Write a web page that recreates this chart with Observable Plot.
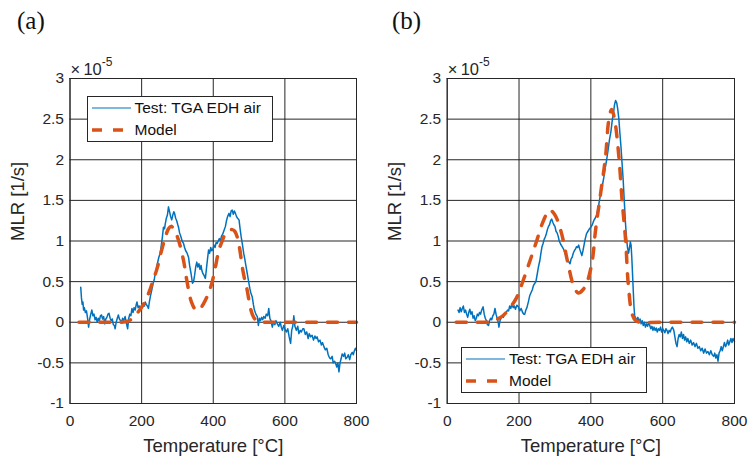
<!DOCTYPE html>
<html>
<head>
<meta charset="utf-8">
<script src="https://cdn.jsdelivr.net/npm/d3@7"></script>
<script src="https://cdn.jsdelivr.net/npm/@observablehq/plot@0.6"></script>
<style>
  html, body { margin: 0; padding: 0; background: #fff; }
  #root { position: relative; width: 750px; height: 459px; overflow: hidden; font-family: "Liberation Sans", Arial, Helvetica, sans-serif; color: #262626; }
  .panel { position: absolute; top: 0; }
  .tag { position: absolute; font-family: "Liberation Serif", "DejaVu Serif", serif; font-size: 25px; color: #111; line-height: 1; }
  .exp { position: absolute; font-size: 16.5px; color: #262626; line-height: 1; white-space: nowrap; }
  .exp sup { font-size: 12px; position: relative; top: -2px; }
  .legend { position: absolute; background: #fff; border: 1px solid #262626; box-sizing: border-box; }
  .legend .row { position: absolute; left: 0; height: 20px; display: flex; align-items: center; font-size: 15.5px; white-space: nowrap; color: #111; }
  .legend svg { display: block; margin-left: 4px; margin-right: 4px; }
</style>
</head>
<body>
<div id="root"></div>
<script>
// ---------------- data ----------------
const xTicks = [0, 200, 400, 600, 800];
const yTicks = [-1, -0.5, 0, 0.5, 1, 1.5, 2, 2.5, 3];
const panelTags = ["(a)", "(b)"];
const seriesNames = ["Test: TGA EDH air", "Model"];
const xLabel = "Temperature [°C]";
const yLabel = "MLR [1/s]";

// Panel (a) test curve, temperature (°C) and MLR (×1e-5 1/s)
const testA_T = [30,32,34,36,38,40,43,46,49,52,55,58,61,64,67,70,73,76,79,82,85,88,91,94,97,100,103,106,109,112,115,118,121,124,126,129,132,135,138,141,144,147,150,154,157,161,164,167,170,173,176,179,182,185,187,190,193,196,199,202,205,208,210,213,216,219,222,225,228,232,235,238,241,244,248,252,255,258,261,264,266,269,272,275,278,281,284,287,290,292,295,298,301,303,306,310,313,317,320,323,327,331,334,338,342,345,348,351,354,357,360,363,366,368,371,374,378,381,384,387,390,393,396,399,402,405,408,411,414,417,420,423,426,430,434,437,440,444,447,450,453,456,459,462,465,468,472,475,478,481,485,488,491,495,498,502,505,509,512,515,519,523,526,529,532,535,538,541,545,548,552,555,558,561,565,568,572,575,579,583,587,590,593,597,600,604,608,612,616,619,622,625,628,632,636,639,643,646,650,653,657,661,665,668,672,676,680,684,687,690,694,698,702,705,709,713,717,721,725,728,732,735,739,742,745,748,751,754,757,760,764,767,770,774,777,781,784,788,791,794,797,800];
const testA_V = [0.43,0.3,0.22,0.25,0.15,0.18,0.12,0.14,0.05,-0.06,0.04,0.1,0.15,0.08,0.1,0.03,0.06,0.0,0.05,0.02,0.08,0.09,0.04,0.07,-0.02,0.04,0.06,0.1,0.11,0.05,0.02,0.04,-0.03,-0.04,-0.08,0.0,0.05,0.09,0.04,0.02,0.0,0.05,0.02,0.07,0.0,-0.08,0.05,0.1,0.08,0.17,0.12,0.18,0.15,0.22,0.25,0.18,0.2,0.15,0.2,0.18,0.22,0.2,0.25,0.22,0.2,0.17,0.26,0.33,0.39,0.48,0.52,0.6,0.65,0.72,0.8,0.85,0.95,1.05,1.17,1.15,1.21,1.28,1.32,1.42,1.36,1.3,1.26,1.32,1.36,1.34,1.28,1.25,1.2,1.17,1.1,1.05,1.0,0.97,0.92,0.88,0.85,0.8,0.7,0.6,0.48,0.5,0.58,0.68,0.74,0.68,0.72,0.65,0.7,0.64,0.6,0.58,0.54,0.66,0.78,0.89,0.85,0.92,0.88,0.9,0.95,0.92,0.98,0.97,1.0,1.03,1.0,1.06,1.08,1.13,1.18,1.25,1.3,1.34,1.3,1.37,1.38,1.33,1.37,1.34,1.3,1.28,1.26,1.15,1.05,0.97,0.85,0.78,0.7,0.6,0.52,0.42,0.36,0.31,0.22,0.15,0.1,0.07,-0.04,0.05,0.02,0.06,0.03,0.07,0.05,0.1,0.08,0.17,0.05,0.02,-0.06,0.0,-0.03,0.02,-0.02,-0.05,0.0,-0.06,-0.1,-0.04,-0.08,-0.12,-0.08,-0.18,-0.26,-0.1,-0.05,0.08,-0.05,-0.1,-0.05,-0.14,-0.1,-0.12,-0.08,-0.08,-0.15,-0.12,-0.2,-0.14,-0.18,-0.16,-0.22,-0.17,-0.2,-0.18,-0.24,-0.22,-0.28,-0.25,-0.3,-0.34,-0.32,-0.4,-0.44,-0.45,-0.42,-0.5,-0.48,-0.51,-0.55,-0.5,-0.61,-0.5,-0.45,-0.39,-0.42,-0.38,-0.45,-0.43,-0.4,-0.46,-0.4,-0.37,-0.4,-0.35,-0.32,-0.35];

// Panel (a) model curve
const modelA_T = [25,60,100,140,160,175,191,205,219,231,243,256,265,275,282,290,303,317,326,339,350,360,373,385,396,406,416,425,434,444,453,460,467,474,481,488,495,504,513,523,535,560,600,700,800];
const modelA_V = [0,0,0,0,0.01,0.05,0.13,0.22,0.35,0.5,0.66,0.89,1.03,1.15,1.18,1.15,1.01,0.76,0.52,0.25,0.16,0.15,0.23,0.34,0.48,0.68,0.89,1.0,1.09,1.13,1.14,1.12,1.05,0.9,0.68,0.52,0.39,0.17,0.06,0.01,0,0,0,0,0];

// Panel (b) test curve
const testB_T = [30,33,36,39,42,45,48,51,54,57,60,63,66,69,72,75,78,81,84,87,90,93,96,100,103,106,109,112,115,118,121,124,127,130,133,136,139,142,144,147,150,153,156,160,164,168,171,174,177,180,184,187,190,194,198,202,206,210,213,216,219,222,226,230,233,237,240,244,247,251,254,258,261,264,267,270,273,276,279,282,285,288,291,294,297,300,303,306,309,312,316,320,324,328,332,336,339,342,345,348,351,354,357,360,363,366,369,372,375,378,381,384,388,392,396,400,404,408,412,416,420,424,428,432,436,440,444,448,452,456,460,463,466,469,472,475,478,481,484,487,490,493,496,499,502,505,507,510,512,514,516,518,520,522,525,528,531,534,537,540,543,546,549,552,555,558,561,564,567,570,573,576,579,582,585,588,591,594,597,600,603,606,609,612,615,618,621,624,627,631,634,637,640,643,646,649,652,655,658,661,664,667,670,674,678,682,686,690,694,698,702,706,710,714,718,722,726,730,734,738,742,745,748,751,754,757,760,763,766,769,772,775,778,781,784,787,790,793,796,800];
const testB_V = [0.15,0.12,0.18,0.13,0.17,0.2,0.12,0.15,0.1,0.06,0.12,0.16,0.1,0.13,0.05,0.08,0.02,0.05,0.1,0.08,0.12,0.1,0.15,0.19,0.1,0.05,0.02,-0.03,-0.04,0.02,0.05,0.03,0.08,0.1,0.17,0.1,0.05,0.0,-0.06,0.02,0.05,0.08,0.06,0.1,0.12,0.15,0.14,0.2,0.17,0.22,0.18,0.2,0.16,0.21,0.19,0.14,0.17,0.12,0.1,0.1,0.15,0.18,0.25,0.33,0.36,0.4,0.45,0.48,0.5,0.6,0.68,0.76,0.85,0.93,0.97,1.02,1.05,1.09,1.14,1.18,1.2,1.25,1.27,1.23,1.2,1.18,1.12,1.1,1.06,1.0,0.96,0.93,0.9,0.85,0.8,0.76,0.74,0.72,0.78,0.8,0.85,0.88,0.9,0.93,0.92,0.95,0.9,0.86,0.82,0.88,0.95,1.02,1.09,1.12,1.15,1.17,1.2,1.25,1.28,1.32,1.4,1.5,1.6,1.68,1.78,1.9,2.0,2.12,2.25,2.35,2.5,2.58,2.68,2.73,2.7,2.62,2.5,2.32,2.15,1.95,1.75,1.5,1.25,1.05,0.92,0.85,0.9,0.99,0.95,0.8,0.6,0.4,0.2,0.08,0.05,0.03,0.06,0.0,0.04,-0.02,0.02,-0.04,0.0,-0.06,-0.02,-0.05,0.0,-0.04,-0.08,-0.05,-0.1,-0.06,-0.1,-0.07,-0.12,-0.08,-0.1,-0.06,-0.12,-0.08,-0.1,-0.13,-0.08,-0.1,-0.14,-0.1,-0.12,-0.08,-0.06,-0.1,-0.18,-0.26,-0.3,-0.2,-0.15,-0.18,-0.12,-0.2,-0.15,-0.22,-0.18,-0.24,-0.2,-0.26,-0.22,-0.28,-0.25,-0.3,-0.26,-0.32,-0.3,-0.35,-0.32,-0.38,-0.33,-0.38,-0.36,-0.4,-0.35,-0.4,-0.42,-0.38,-0.44,-0.4,-0.48,-0.38,-0.35,-0.3,-0.35,-0.3,-0.25,-0.3,-0.27,-0.22,-0.28,-0.24,-0.2,-0.25,-0.2,-0.24,-0.22,-0.26];

// Panel (b) model curve
const modelB_T = [25,60,100,120,140,155,170,193,212,230,249,268,285,300,318,335,352,365,378,390,404,413,427,441,450,458,466,478,487,497,504,515,525,540,600,700,800];
const modelB_V = [0,0,0,0.01,0.04,0.08,0.15,0.3,0.52,0.75,1.0,1.25,1.38,1.32,1.1,0.75,0.45,0.36,0.4,0.5,0.76,1.13,1.58,2.04,2.49,2.62,2.5,2.04,1.5,1.0,0.48,0.1,0.02,0,0,0,0];

// ---------------- drawing ----------------
const BLUE = "#0072BD", ORANGE = "#D95319", INK = "#262626", GRID = "#1a1a1a";
const FS_TICK = 15.5, FS_LABEL = 18.5;
const zip = (T, V) => T.map((t, i) => ({T: t, v: V[i]}));

function panel(test, model, ml, mr) {
  return Plot.plot({
    width: 375, height: 459,
    marginLeft: ml, marginRight: mr, marginTop: 78, marginBottom: 56,
    style: {fontFamily: '"Liberation Sans", Arial, sans-serif', fontSize: FS_TICK + "px", color: INK, background: "transparent", overflow: "visible"},
    x: {domain: [0, 800], axis: null},
    y: {domain: [-1, 3], axis: null},
    marks: [
      Plot.gridX(xTicks, {stroke: GRID, strokeOpacity: 0.95, strokeWidth: 1}),
      Plot.gridY(yTicks, {stroke: GRID, strokeOpacity: 0.95, strokeWidth: 1}),
      Plot.line(test, {x: "T", y: "v", stroke: BLUE, strokeWidth: 1.5}),
      Plot.line(model, {x: "T", y: "v", stroke: ORANGE, strokeWidth: 3.5, strokeDasharray: "10,11", curve: "catmull-rom"}),
      Plot.frame({stroke: INK, strokeWidth: 1}),
      // tick labels (positioned through the x / y scales)
      Plot.text(xTicks, {x: d => d, frameAnchor: "bottom", dy: 18, text: d => String(d), fontSize: FS_TICK, lineAnchor: "middle", fill: INK}),
      Plot.text(yTicks, {y: d => d, frameAnchor: "left", dx: -6, textAnchor: "end", text: d => String(d), fontSize: FS_TICK, lineAnchor: "middle", fill: INK}),
      Plot.text([xLabel], {frameAnchor: "bottom", dy: 43, text: d => d, fontSize: FS_LABEL, lineAnchor: "middle", fill: INK}),
      Plot.text([yLabel], {frameAnchor: "left", dx: -52, rotate: -90, text: d => d, fontSize: FS_LABEL, lineAnchor: "middle", fill: INK})
    ]
  });
}

const root = document.getElementById("root");
const specs = [
  {left: 0, test: zip(testA_T, testA_V), model: zip(modelA_T, modelA_V), ml: 69.5, mr: 19, legend: {x: 86.5, y: 95.5}},
  {left: 375, test: zip(testB_T, testB_V), model: zip(modelB_T, modelB_V), ml: 71.7, mr: 16, legend: {x: 461, y: 347}}
];

specs.forEach((s, i) => {
  const wrap = document.createElement("div");
  wrap.className = "panel";
  wrap.style.left = s.left + "px";
  wrap.appendChild(panel(s.test, s.model, s.ml, s.mr));
  root.appendChild(wrap);

  const tag = document.createElement("div");
  tag.className = "tag";
  tag.textContent = panelTags[i];
  tag.style.left = (s.left + 17) + "px";
  tag.style.top = "8px";
  root.appendChild(tag);

  const exp = document.createElement("div");
  exp.className = "exp";
  exp.innerHTML = "×\u200910<sup>-5</sup>";
  exp.style.left = (s.left + s.ml + 1) + "px";
  exp.style.top = "58px";
  root.appendChild(exp);

  const lg = document.createElement("div");
  lg.className = "legend";
  lg.style.left = s.legend.x + "px";
  lg.style.top = s.legend.y + "px";
  lg.style.width = "186px";
  lg.style.height = "46px";
  const rows = [
    {name: seriesNames[0], stroke: BLUE, w: 1.2, dash: null, top: 1},
    {name: seriesNames[1], stroke: ORANGE, w: 3.5, dash: "10,11", top: 23}
  ];
  rows.forEach(r => {
    const row = document.createElement("div");
    row.className = "row";
    row.style.top = r.top + "px";
    row.innerHTML = `<svg width="39" height="20"><line x1="0" x2="39" y1="10" y2="10" stroke="${r.stroke}" stroke-width="${r.w}" ${r.dash ? `stroke-dasharray="${r.dash}"` : ""}/></svg><span>${r.name}</span>`;
    lg.appendChild(row);
  });
  root.appendChild(lg);
});
</script>
</body>
</html>
